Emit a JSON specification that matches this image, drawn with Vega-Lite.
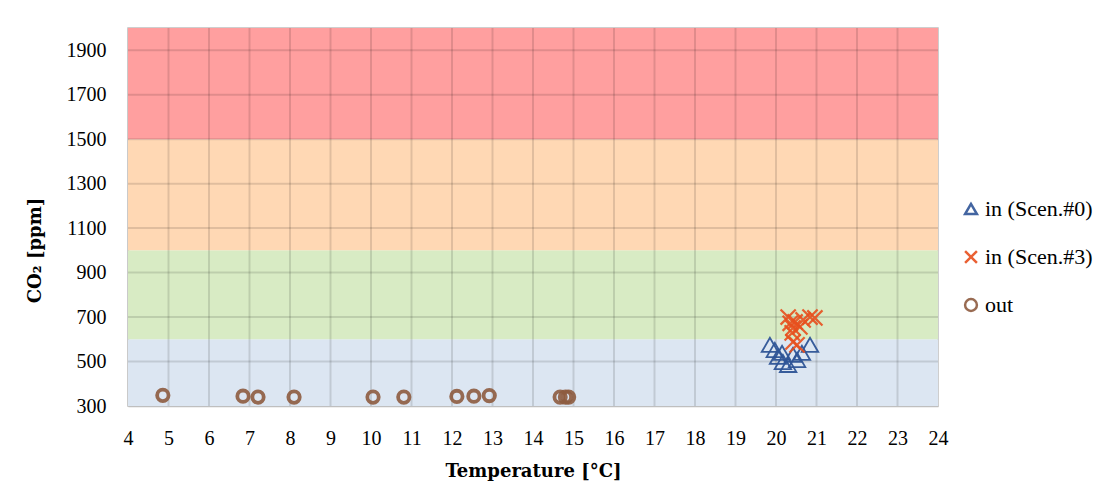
{
  "$schema": "https://vega.github.io/schema/vega-lite/v6.json",
  "autosize": "none",
  "width": 810,
  "height": 378,
  "padding": {"left": 128, "top": 28, "right": 163, "bottom": 92},
  "background": "white",
  "config": {
    "font": "Liberation Serif",
    "view": {"stroke": "#BFBFBF", "strokeWidth": 1.5},
    "axis": {
      "labelFont": "Liberation Serif", "labelFontSize": 20, "labelColor": "#000",
      "titleFont": "DejaVu Serif", "titleFontSize": 18, "titleFontWeight": "bold", "titleColor": "#000",
      "ticks": false, "domainColor": "#BFBFBF", "domainWidth": 1.5, "grid": false, "labelFlush": false
    },
    "legend": {"labelFont": "Liberation Serif", "labelFontSize": 22, "labelColor": "#000"}
  },
  "datasets": {
    "bands": [
      {"band": "blue", "x": 4, "x2": 24, "lo": 300, "hi": 600},
      {"band": "green", "x": 4, "x2": 24, "lo": 600, "hi": 1000},
      {"band": "orange", "x": 4, "x2": 24, "lo": 1000, "hi": 1500},
      {"band": "red", "x": 4, "x2": 24, "lo": 1500, "hi": 2000}
    ],
    "xgrid": [{"v": 5}, {"v": 6}, {"v": 7}, {"v": 8}, {"v": 9}, {"v": 10}, {"v": 11}, {"v": 12}, {"v": 13}, {"v": 14}, {"v": 15}, {"v": 16}, {"v": 17}, {"v": 18}, {"v": 19}, {"v": 20}, {"v": 21}, {"v": 22}, {"v": 23}],
    "ygrid": [{"v": 500}, {"v": 700}, {"v": 900}, {"v": 1100}, {"v": 1300}, {"v": 1500}, {"v": 1700}, {"v": 1900}],
    "points": [
      {"series": "in (Scen.#0)", "t": 19.85, "co2": 575},
      {"series": "in (Scen.#0)", "t": 19.97, "co2": 552},
      {"series": "in (Scen.#0)", "t": 20.05, "co2": 521},
      {"series": "in (Scen.#0)", "t": 20.15, "co2": 539},
      {"series": "in (Scen.#0)", "t": 20.17, "co2": 498},
      {"series": "in (Scen.#0)", "t": 20.3, "co2": 485},
      {"series": "in (Scen.#0)", "t": 20.42, "co2": 530},
      {"series": "in (Scen.#0)", "t": 20.52, "co2": 507},
      {"series": "in (Scen.#0)", "t": 20.64, "co2": 539},
      {"series": "in (Scen.#0)", "t": 20.84, "co2": 575},
      {"series": "in (Scen.#3)", "t": 20.35, "co2": 672},
      {"series": "in (Scen.#3)", "t": 20.47, "co2": 678},
      {"series": "in (Scen.#3)", "t": 20.84, "co2": 700},
      {"series": "in (Scen.#3)", "t": 20.96, "co2": 696},
      {"series": "in (Scen.#3)", "t": 20.42, "co2": 651},
      {"series": "in (Scen.#3)", "t": 20.59, "co2": 656},
      {"series": "in (Scen.#3)", "t": 20.4, "co2": 629},
      {"series": "in (Scen.#3)", "t": 20.42, "co2": 588},
      {"series": "in (Scen.#3)", "t": 20.52, "co2": 575},
      {"series": "in (Scen.#3)", "t": 20.67, "co2": 687},
      {"series": "in (Scen.#3)", "t": 20.3, "co2": 700},
      {"series": "out", "t": 4.86, "co2": 348},
      {"series": "out", "t": 6.84, "co2": 344},
      {"series": "out", "t": 7.21, "co2": 340},
      {"series": "out", "t": 8.1, "co2": 340},
      {"series": "out", "t": 10.05, "co2": 340},
      {"series": "out", "t": 10.81, "co2": 340},
      {"series": "out", "t": 12.12, "co2": 343},
      {"series": "out", "t": 12.54, "co2": 344},
      {"series": "out", "t": 12.92, "co2": 347},
      {"series": "out", "t": 14.67, "co2": 340},
      {"series": "out", "t": 14.8, "co2": 340},
      {"series": "out", "t": 14.88, "co2": 340}
    ]
  },
  "layer": [
    {
      "data": {"name": "bands"},
      "mark": {"type": "rect"},
      "encoding": {
        "x": {"field": "x", "type": "quantitative", "scale": {"domain": [4, 24], "nice": false}, "axis": {"values": [4,5,6,7,8,9,10,11,12,13,14,15,16,17,18,19,20,21,22,23,24], "labelPadding": 22, "title": "Temperature [°C]", "titlePadding": 14}},
        "x2": {"field": "x2"},
        "y": {"field": "lo", "type": "quantitative", "scale": {"domain": [300, 2000], "nice": false, "zero": false}, "axis": {"values": [300,500,700,900,1100,1300,1500,1700,1900], "format": "d", "labelPadding": 22, "title": "CO₂ [ppm]", "titlePadding": 22, "titleY": 222}},
        "y2": {"field": "hi"},
        "fill": {"field": "band", "type": "nominal", "legend": null, "scale": {"domain": ["blue", "green", "orange", "red"], "range": ["#DCE6F2", "#D8EBC4", "#FFD8B4", "#FF9F9F"]}}
      }
    },
    {
      "data": {"name": "xgrid"},
      "mark": {"type": "rule", "color": "#000", "opacity": 0.12, "strokeWidth": 2},
      "encoding": {"x": {"field": "v", "type": "quantitative"}}
    },
    {
      "data": {"name": "ygrid"},
      "mark": {"type": "rule", "color": "#000", "opacity": 0.12, "strokeWidth": 2},
      "encoding": {"y": {"field": "v", "type": "quantitative"}}
    },
    {
      "data": {"name": "points"},
      "transform": [{"filter": "datum.series == 'out'"}],
      "mark": {"type": "point", "filled": false, "opacity": 0.9, "strokeWidth": 3.8, "size": 130},
      "encoding": {
        "x": {"field": "t", "type": "quantitative"},
        "y": {"field": "co2", "type": "quantitative"},
        "stroke": {"field": "series", "type": "nominal", "scale": {"domain": ["in (Scen.#0)", "in (Scen.#3)", "out"], "range": ["#2F5597", "#E8501E", "#8E5C40"]}, "legend": {"title": null, "orient": "none", "legendX": 832, "legendY": 170, "rowPadding": 26, "symbolStrokeWidth": 2.5, "symbolSize": 140, "labelOffset": 3}},
        "shape": {"field": "series", "type": "nominal", "scale": {"domain": ["in (Scen.#0)", "in (Scen.#3)", "out"], "range": ["triangle-up", "M-1,-1L1,1M1,-1L-1,1", "circle"]}}
      }
    },
    {
      "data": {"name": "points"},
      "transform": [{"filter": "datum.series == 'in (Scen.#0)'"}],
      "mark": {"type": "point", "filled": false, "opacity": 0.95, "strokeWidth": 1.8, "size": 270},
      "encoding": {
        "x": {"field": "t", "type": "quantitative"},
        "y": {"field": "co2", "type": "quantitative"},
        "stroke": {"field": "series", "type": "nominal"},
        "shape": {"field": "series", "type": "nominal"}
      }
    },
    {
      "data": {"name": "points"},
      "transform": [{"filter": "datum.series == 'in (Scen.#3)'"}],
      "mark": {"type": "point", "filled": false, "opacity": 0.9, "strokeWidth": 2.2, "size": 230},
      "encoding": {
        "x": {"field": "t", "type": "quantitative"},
        "y": {"field": "co2", "type": "quantitative"},
        "stroke": {"field": "series", "type": "nominal"},
        "shape": {"field": "series", "type": "nominal"}
      }
    }
  ]
}
